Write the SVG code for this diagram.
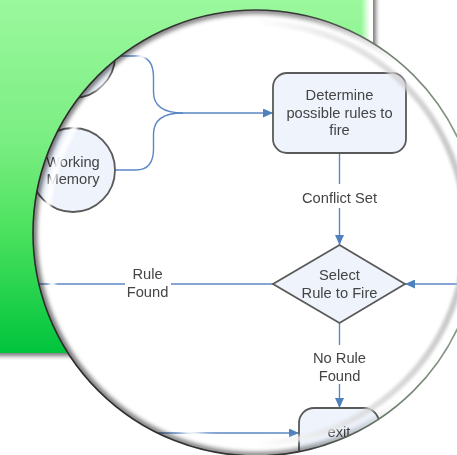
<svg xmlns="http://www.w3.org/2000/svg" width="457" height="455" viewBox="0 0 457 455">
  <style>
    .node { fill: #eef3fc; stroke: #5a5a5a; stroke-width: 1.8; }
    .label { font-family: "Liberation Sans", Arial, sans-serif; font-size: 14.7px; fill: #444; text-anchor: middle; }
    .wire { fill: none; stroke: #5b87c5; stroke-width: 1.4; }
  </style>
  <defs>
    <linearGradient id="greenFill" x1="0" y1="0" x2="0" y2="1">
      <stop offset="0" stop-color="#9bf89d"/>
      <stop offset="0.4" stop-color="#7aee82"/>
      <stop offset="0.65" stop-color="#4de25f"/>
      <stop offset="1" stop-color="#00c43c"/>
    </linearGradient>
    <linearGradient id="greenEdge" x1="0" y1="0" x2="1" y2="0">
      <stop offset="0" stop-color="#ffffff" stop-opacity="0"/>
      <stop offset="1" stop-color="#ffffff" stop-opacity="0.9"/>
    </linearGradient>
    <linearGradient id="rimEdge" x1="0" y1="0" x2="1" y2="0">
      <stop offset="0" stop-color="#2b2b2b"/>
      <stop offset="0.6" stop-color="#383838"/>
      <stop offset="0.8" stop-color="#6f806f"/>
      <stop offset="1" stop-color="#8fa08f"/>
    </linearGradient>
    <linearGradient id="rimShadow" x1="0" y1="0" x2="1" y2="0">
      <stop offset="0" stop-color="#000" stop-opacity="0.55"/>
      <stop offset="0.6" stop-color="#000" stop-opacity="0.45"/>
      <stop offset="0.82" stop-color="#000" stop-opacity="0"/>
    </linearGradient>
    <linearGradient id="bevel" x1="0" y1="0" x2="1" y2="0">
      <stop offset="0" stop-color="#ffffff" stop-opacity="0.95"/>
      <stop offset="0.5" stop-color="#ffffff" stop-opacity="0.85"/>
      <stop offset="0.75" stop-color="#d8d8d8" stop-opacity="0.75"/>
      <stop offset="1" stop-color="#c4c4c4" stop-opacity="1"/>
    </linearGradient>
    <clipPath id="lensClip"><circle cx="256" cy="233" r="223"/></clipPath>
    <filter id="blur2" x="-10%" y="-10%" width="120%" height="120%"><feGaussianBlur stdDeviation="2"/></filter>
    <filter id="blur15" x="-10%" y="-10%" width="120%" height="120%"><feGaussianBlur stdDeviation="1.5"/></filter>
    <filter id="soft" x="-5%" y="-5%" width="110%" height="110%"><feGaussianBlur stdDeviation="0.35"/></filter>
    <marker id="arrow" markerWidth="10" markerHeight="9" refX="10" refY="4.5" orient="auto" markerUnits="userSpaceOnUse">
      <path d="M0,0 L10,4.5 L0,9 z" fill="#4f81bd"/>
    </marker>
  </defs>

  <rect width="457" height="455" fill="#ffffff"/>

  <!-- green panel with frame and drop shadow -->
  <g id="panel">
    <rect x="-6" y="-6" width="382" height="362" fill="#7a7a7a" filter="url(#blur2)"/>
    <rect x="0" y="0" width="373" height="353" fill="#ffffff"/>
    <rect x="0" y="0" width="369" height="353" fill="url(#greenFill)"/>
    <rect x="361" y="0" width="8" height="353" fill="url(#greenEdge)"/>
  </g>

  <!-- magnifier lens -->
  <circle cx="256" cy="233" r="223" fill="#ffffff"/>

  <g clip-path="url(#lensClip)">
    <g filter="url(#soft)">
      <g id="connectors">
        <path class="wire" d="M115,56 H136 C149,56 153.5,64 153.5,77 V92 C153.5,106 163,113 183,113"/>
        <path class="wire" d="M115,170 H136 C149,170 153.5,162 153.5,149 V134 C153.5,120 163,113 183,113"/>
        <path class="wire" d="M183,113 H273" marker-end="url(#arrow)"/>
        <path class="wire" d="M339.5,153 V184"/>
        <path class="wire" d="M339.5,208 V245" marker-end="url(#arrow)"/>
        <text class="label" x="339.5" y="203">Conflict Set</text>
        <path class="wire" d="M480,284 H405" marker-end="url(#arrow)"/>
        <path class="wire" d="M273,284 H171"/>
        <path class="wire" d="M125,284 H20"/>
        <text class="label" x="147.5" y="279">Rule</text>
        <text class="label" x="147.5" y="297">Found</text>
        <path class="wire" d="M339.5,323 V345"/>
        <path class="wire" d="M339.5,384 V408" marker-end="url(#arrow)"/>
        <text class="label" x="339.5" y="363">No Rule</text>
        <text class="label" x="339.5" y="380.5">Found</text>
        <path class="wire" d="M100,433 H299" marker-end="url(#arrow)"/>
      </g>

      <g id="source-node">
        <circle class="node" cx="73" cy="56" r="42"/>
      </g>

      <g id="working-memory">
        <circle class="node" cx="73" cy="170" r="42"/>
        <text class="label" x="73" y="166.5">Working</text>
        <text class="label" x="73" y="184">Memory</text>
      </g>

      <g id="determine">
        <rect class="node" x="273" y="73" width="133" height="80" rx="14"/>
        <text class="label" x="339.5" y="100">Determine</text>
        <text class="label" x="339.5" y="117.5">possible rules to</text>
        <text class="label" x="339.5" y="135">fire</text>
      </g>

      <g id="select-rule">
        <polygon class="node" points="339.5,245 405,284 339.5,323 273,284"/>
        <text class="label" x="339.5" y="280">Select</text>
        <text class="label" x="339.5" y="298">Rule to Fire</text>
      </g>

      <g id="exit">
        <rect class="node" x="299" y="408" width="80" height="60" rx="15"/>
        <text class="label" x="339" y="437">exit</text>
      </g>
    </g>

    <!-- glass rim: bevel ring and inner shadow -->
    <circle cx="256" cy="233" r="210" fill="none" stroke="url(#bevel)" stroke-width="6" filter="url(#blur15)"/>
    <circle cx="256" cy="233" r="222" fill="none" stroke="url(#rimShadow)" stroke-width="6" filter="url(#blur2)"/>
  </g>

  <circle cx="256" cy="233" r="223" fill="none" stroke="url(#rimEdge)" stroke-width="1.6"/>
</svg>
